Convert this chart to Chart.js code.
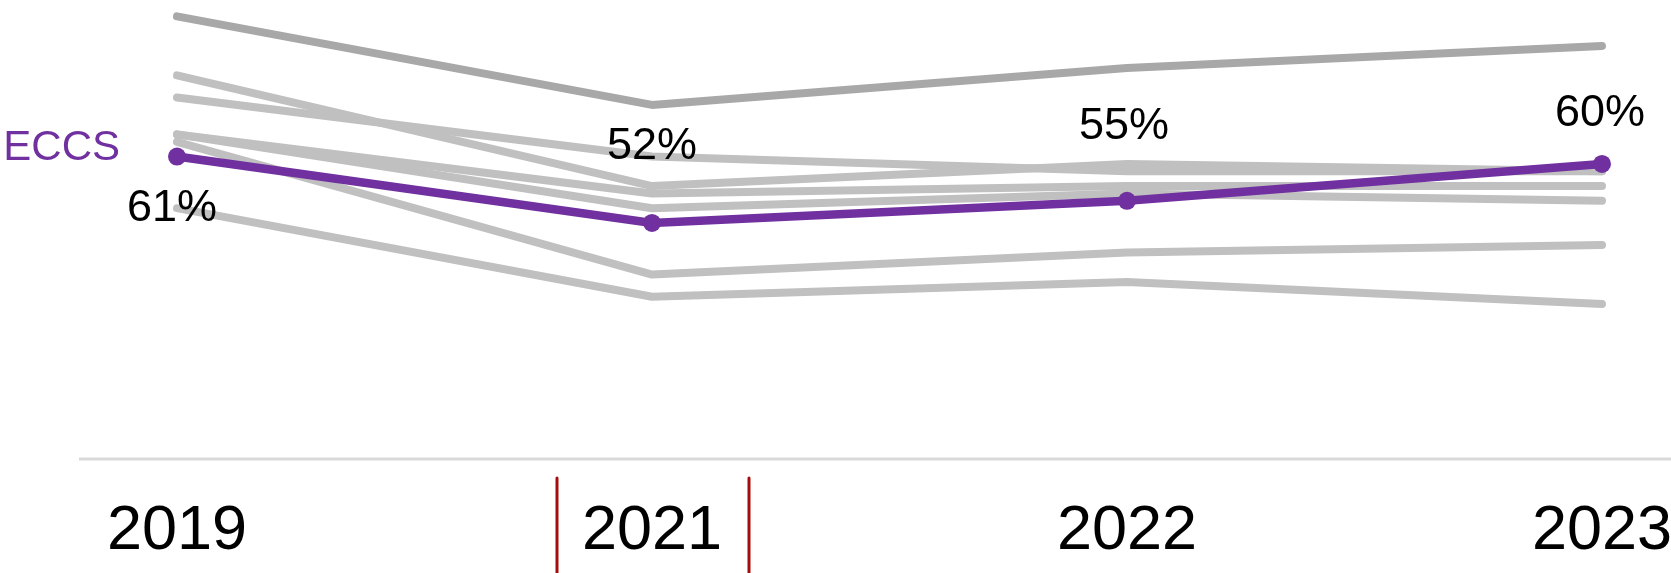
<!DOCTYPE html>
<html>
<head>
<meta charset="utf-8">
<title>ECCS trend</title>
<script src="https://cdn.jsdelivr.net/npm/chart.js@4.4.1/dist/chart.umd.min.js"></script>
<style>
    html, body { margin: 0; padding: 0; background: #fff; }
    #chart-wrap { width: 1671px; height: 573px; }
</style>
</head>
<body>
<div id="chart-wrap"><canvas id="trend-chart" width="1671" height="573"></canvas></div>
<script>
// survey years on the x axis
const years = ['2019', '2021', '2022', '2023'];

// highlighted series
const eccs = [61, 52, 55, 60];

// comparison series (drawn grey behind ECCS)
const peerTop = [80, 68, 73, 76];
const peerB = [72, 57, 60, 59];
const peerC = [69, 61, 59, 59];
const peerD = [64, 56, 57, 57];
const peerE = [64, 54, 56, 55];
const peerF = [63, 45, 48, 49];
const peerG = [54, 42, 44, 41];

const purple = '#70309f';
const grey = '#c0c0c0';
const darkGrey = '#a8a8a8';
const font = '"Liberation Sans", Arial, sans-serif';

// where each percentage sits relative to its point
const labelOffsets = [
    {dx: -5, dy: 52},
    {dx: 0, dy: -76},
    {dx: -3, dy: -74},
    {dx: -2, dy: -50}
];

function greyLine(name, values, color){
    return {
        label: name,
        data: values,
        borderColor: color || grey,
        borderWidth: 8,
        borderCapStyle: 'round',
        borderJoinStyle: 'round',
        pointRadius: 0,
        tension: 0,
        clip: false
    };
}

// long light rule under the plot
const axisRule = {
    id: 'axisRule',
    beforeDatasetsDraw(chart){
        let ctx = chart.ctx;
        let y = chart.chartArea.bottom;
        ctx.save();
        ctx.strokeStyle = '#d9d9d9';
        ctx.lineWidth = 3;
        ctx.beginPath();
        ctx.moveTo(79, y);
        ctx.lineTo(chart.width, y);
        ctx.stroke();
        ctx.restore();
    }
};

// red marks either side of the 2021 label
const yearBracket = {
    id: 'yearBracket',
    afterDraw(chart){
        let ctx = chart.ctx;
        let x = chart.scales.x.getPixelForValue(1);
        let top = chart.chartArea.bottom + 19;
        ctx.save();
        ctx.strokeStyle = '#a30d0d';
        ctx.lineWidth = 3;
        ctx.lineCap = 'round';
        [x - 95, x + 97].forEach(function (lx){
            ctx.beginPath();
            ctx.moveTo(lx, top);
            ctx.lineTo(lx, chart.height + 2);
            ctx.stroke();
        });
        ctx.restore();
    }
};

// percentages on the ECCS points and the series name at the start
const eccsLabels = {
    id: 'eccsLabels',
    afterDatasetsDraw(chart){
        let ctx = chart.ctx;
        let meta = chart.getDatasetMeta(0);
        let values = chart.data.datasets[0].data;
        ctx.save();
        ctx.textBaseline = 'middle';
        ctx.textAlign = 'center';
        ctx.fillStyle = '#000';
        ctx.font = '45px ' + font;
        meta.data.forEach(function (pt, i){
            let off = labelOffsets[i];
            ctx.fillText(values[i] + '%', pt.x + off.dx, pt.y + off.dy);
        });
        let first = meta.data[0];
        ctx.textAlign = 'right';
        ctx.fillStyle = purple;
        ctx.font = '42px ' + font;
        ctx.fillText(chart.data.datasets[0].label, first.x - 57, first.y - 8);
        ctx.restore();
    }
};

let data = {
    labels: years,
    datasets: [
        {
            label: 'ECCS',
            data: eccs,
            borderColor: purple,
            backgroundColor: purple,
            borderWidth: 8.5,
            pointRadius: 9,
            pointBackgroundColor: purple,
            pointBorderWidth: 0,
            tension: 0,
            clip: false
        },
        greyLine('peer-top', peerTop, darkGrey),
        greyLine('peer-b', peerB),
        greyLine('peer-c', peerC),
        greyLine('peer-d', peerD),
        greyLine('peer-e', peerE),
        greyLine('peer-f', peerF),
        greyLine('peer-g', peerG)
    ]
};

let trendCanvas = document.getElementById('trend-chart');
let trendChart = new Chart(trendCanvas.getContext('2d'), {
    type: 'line',
    data: data,
    options: {
        responsive: false,
        animation: false,
        devicePixelRatio: 1,
        layout: {
            padding: {left: 177, right: 69, top: 0, bottom: 0}
        },
        plugins: {
            legend: {display: false},
            tooltip: {enabled: false}
        },
        scales: {
            x: {
                grid: {display: false, drawTicks: false},
                border: {display: false},
                ticks: {
                    color: '#000',
                    padding: 35,
                    maxRotation: 0,
                    font: {family: font, size: 63}
                },
                afterFit: function (scale){
                    scale.height = 114;
                    scale.paddingLeft = 0;
                    scale.paddingRight = 0;
                }
            },
            y: {
                display: false,
                min: 20,
                max: 81
            }
        }
    },
    plugins: [axisRule, eccsLabels, yearBracket]
});
</script>
</body>
</html>
